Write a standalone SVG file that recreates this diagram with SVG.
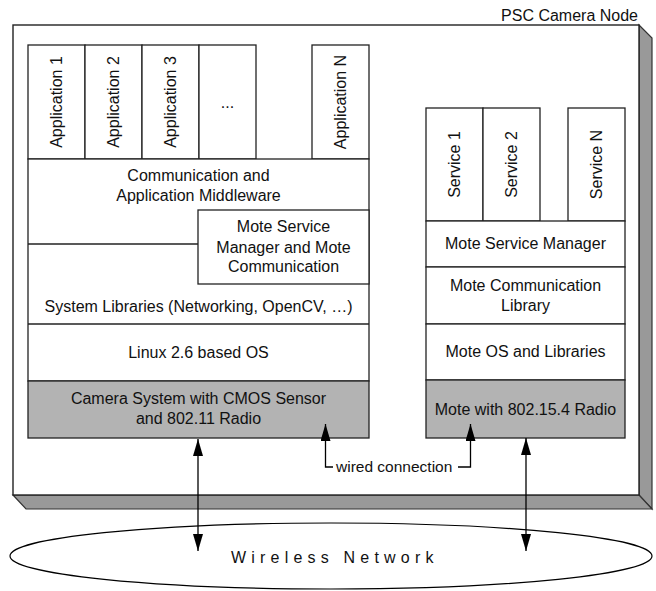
<svg xmlns="http://www.w3.org/2000/svg" width="656" height="591" viewBox="0 0 656 591">
<style>
text{font-family:"Liberation Sans",Arial,sans-serif;font-size:16px;fill:#111;}
.c{text-anchor:middle;}
.box{fill:#fff;stroke:#222;stroke-width:1.3;}
.hw{fill:#b3b3b3;stroke:#222;stroke-width:1.3;}
.ln{stroke:#222;stroke-width:1.3;fill:none;}
.sh{fill:#999;stroke:#333;stroke-width:1.2;}
.arr{stroke:#000;stroke-width:1.3;fill:none;}
</style>
<defs>
<marker id="ah" viewBox="0 0 17 10" refX="17" refY="5" markerWidth="17" markerHeight="10" markerUnits="userSpaceOnUse" orient="auto-start-reverse">
<path d="M0,0 L17,5 L0,10 z" fill="#000"/>
</marker>
</defs>

<g id="psc-camera-node">
<polygon class="sh" points="639,25 652,38 652,509 639,495"/>
<polygon class="sh" points="13,495 639,495 652,509 26,509"/>
<rect x="13" y="25" width="626" height="470" fill="#fff" stroke="#222" stroke-width="1.4"/>
<text x="638" y="21" style="text-anchor:end">PSC Camera Node</text>
</g>

<g id="app1"><rect class="box" x="28" y="45" width="57" height="114"/><text class="c" transform="translate(56.5,102) rotate(-90)" y="5.5">Application 1</text></g>
<g id="app2"><rect class="box" x="85" y="45" width="57" height="114"/><text class="c" transform="translate(113.5,102) rotate(-90)" y="5.5">Application 2</text></g>
<g id="app3"><rect class="box" x="142" y="45" width="57" height="114"/><text class="c" transform="translate(170.5,102) rotate(-90)" y="5.5">Application 3</text></g>
<g id="app-dots"><rect class="box" x="199" y="45" width="57" height="114"/><text class="c" x="227.5" y="108">...</text></g>
<g id="appN"><rect class="box" x="312" y="45" width="57" height="114"/><text class="c" transform="translate(340.5,102) rotate(-90)" y="5.5">Application N</text></g>

<g id="middleware">
<rect class="box" x="28" y="159" width="341" height="222"/>
<line class="ln" x1="28" y1="244" x2="198" y2="244"/>
<text class="c" x="198.5" y="181">Communication and</text>
<text class="c" x="198.5" y="201">Application Middleware</text>
</g>
<g id="mote-service-manager-comm">
<rect class="box" x="198" y="210" width="171" height="74"/>
<text class="c" x="283.5" y="232">Mote Service</text>
<text class="c" x="283.5" y="252.5">Manager and Mote</text>
<text class="c" x="283.5" y="271.5">Communication</text>
</g>
<g id="system-libraries">
<text class="c" x="198.5" y="312">System Libraries (Networking, OpenCV, …)</text>
<line class="ln" x1="28" y1="324" x2="369" y2="324"/>
</g>
<g id="linux-os">
<text class="c" x="198.5" y="358">Linux 2.6 based OS</text>
</g>
<g id="camera-system">
<rect class="hw" x="28" y="381" width="341" height="57"/>
<text class="c" x="198.5" y="404">Camera System with CMOS Sensor</text>
<text class="c" x="198.5" y="423.5">and 802.11 Radio</text>
</g>

<g id="service1"><rect class="box" x="426" y="108" width="57" height="113"/><text class="c" transform="translate(454.5,164.5) rotate(-90)" y="5.5">Service 1</text></g>
<g id="service2"><rect class="box" x="483" y="108" width="57" height="113"/><text class="c" transform="translate(511.5,164.5) rotate(-90)" y="5.5">Service 2</text></g>
<g id="serviceN"><rect class="box" x="568" y="108" width="57" height="113"/><text class="c" transform="translate(596.5,164.5) rotate(-90)" y="5.5">Service N</text></g>
<g id="mote-service-manager"><rect class="box" x="426" y="221" width="199" height="46"/><text class="c" x="525.5" y="249">Mote Service Manager</text></g>
<g id="mote-comm-library"><rect class="box" x="426" y="267" width="199" height="57"/><text class="c" x="525.5" y="291">Mote Communication</text><text class="c" x="525.5" y="310.5">Library</text></g>
<g id="mote-os"><rect class="box" x="426" y="324" width="199" height="56"/><text class="c" x="525.5" y="356.5">Mote OS and Libraries</text></g>
<g id="mote-radio"><rect class="hw" x="426" y="380" width="199" height="58"/><text class="c" x="525.5" y="414.5">Mote with 802.15.4 Radio</text></g>

<g id="wireless-network">
<ellipse cx="331" cy="556" rx="321" ry="33" fill="#fff" stroke="#000" stroke-width="1.2"/>
<text x="231" y="563" style="letter-spacing:5.2px">Wireless Network</text>
</g>

<g id="connectors">
<line class="arr" x1="198" y1="439" x2="198" y2="551" marker-start="url(#ah)" marker-end="url(#ah)"/>
<line class="arr" x1="526" y1="438" x2="526" y2="551" marker-start="url(#ah)" marker-end="url(#ah)"/>
<polyline class="arr" points="333,467 325.5,467 325.5,424" marker-end="url(#ah)"/>
<polyline class="arr" points="458,467 470.5,467 470.5,424" marker-end="url(#ah)"/>
<text x="336" y="472" style="font-size:15.5px">wired connection</text>
</g>
</svg>
